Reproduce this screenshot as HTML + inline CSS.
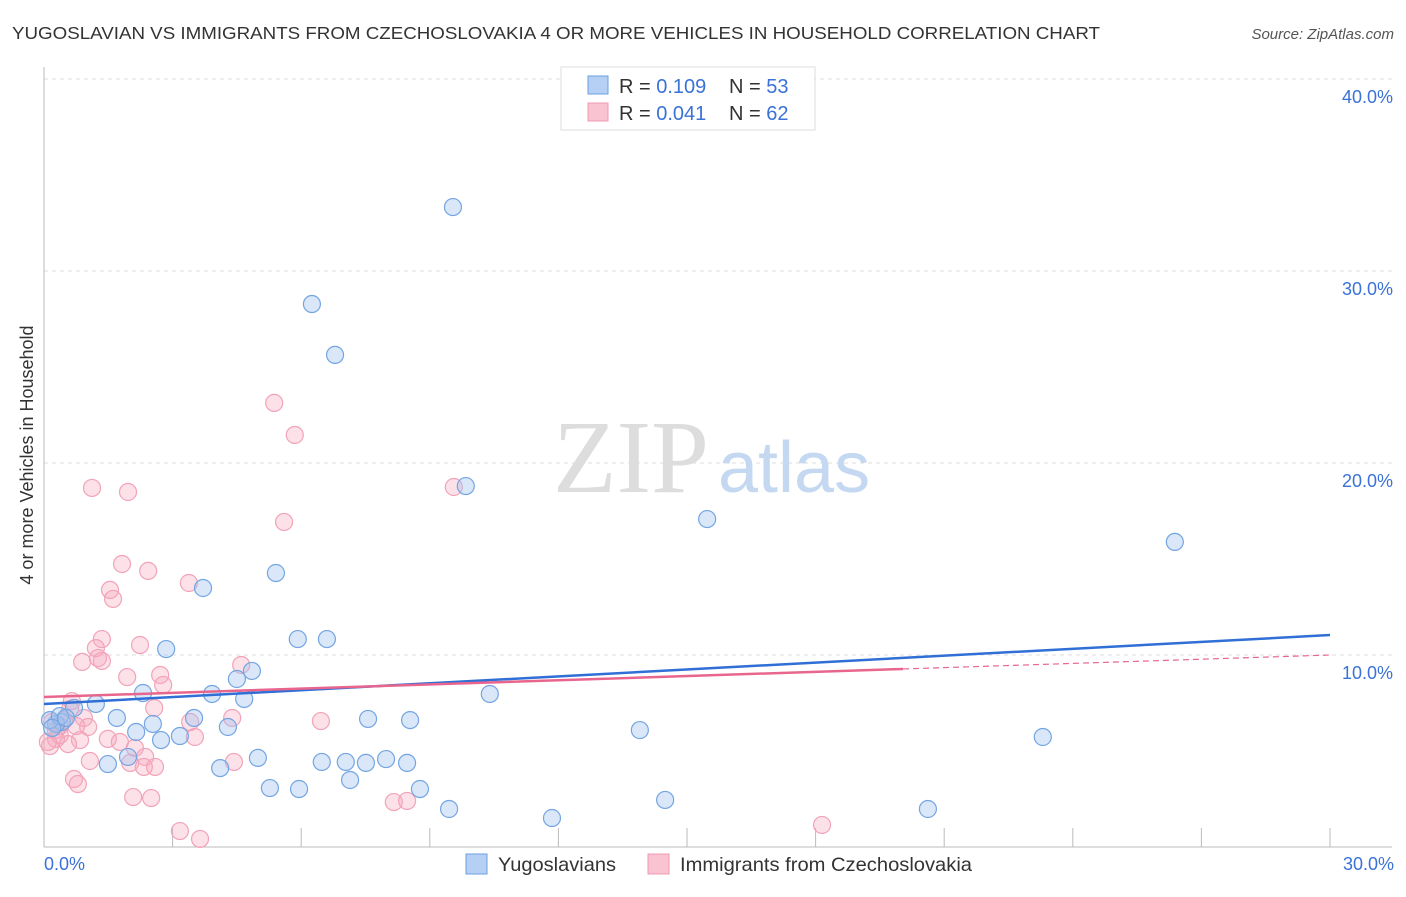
<!DOCTYPE html>
<html><head><meta charset="utf-8"><style>
body{margin:0;background:#fff;font-family:"Liberation Sans",sans-serif}
</style></head><body>
<svg width="1406" height="892" xmlns="http://www.w3.org/2000/svg">
<text x="12" y="39" font-size="17.5" fill="#333" textLength="1088" lengthAdjust="spacingAndGlyphs">YUGOSLAVIAN VS IMMIGRANTS FROM CZECHOSLOVAKIA 4 OR MORE VEHICLES IN HOUSEHOLD CORRELATION CHART</text>
<text x="1394" y="39" font-size="15" fill="#555" font-style="italic" text-anchor="end">Source: ZipAtlas.com</text>
<g id="grid"></g>
<text x="553" y="492" font-size="104" fill="#ddd" font-family="Liberation Serif,serif">ZIP</text>
<text x="718" y="492" font-size="72" fill="#c5d8f2">atlas</text>
<text x="33" y="455" font-size="18" fill="#333" text-anchor="middle" transform="rotate(-90 33 455)">4 or more Vehicles in Household</text>
<g id="pts"></g>
<g id="lines"></g>
<g>
<rect x="561" y="67" width="254" height="63" fill="#fff" stroke="#ddd"/>
<rect x="588" y="76" width="20" height="18" fill="#b6d0f5" stroke="#6a9fe0"/>
<rect x="588" y="103" width="20" height="18" fill="#f9c3d2" stroke="#f09ab0"/>
<text x="619" y="93" font-size="20" fill="#333">R = <tspan fill="#3a72d8">0.109</tspan></text>
<text x="729" y="93" font-size="20" fill="#333">N = <tspan fill="#3a72d8">53</tspan></text>
<text x="619" y="120" font-size="20" fill="#333">R = <tspan fill="#3a72d8">0.041</tspan></text>
<text x="729" y="120" font-size="20" fill="#333">N = <tspan fill="#3a72d8">62</tspan></text>
</g>
<g>
<rect x="466" y="854" width="21" height="20" fill="#b6d0f5" stroke="#6a9fe0"/>
<text x="498" y="871" font-size="19.5" fill="#333" textLength="118" lengthAdjust="spacingAndGlyphs">Yugoslavians</text>
<rect x="648" y="854" width="21" height="20" fill="#f9c3d2" stroke="#f09ab0"/>
<text x="680" y="871" font-size="19.5" fill="#333" textLength="292" lengthAdjust="spacingAndGlyphs">Immigrants from Czechoslovakia</text>
</g>
<text x="44" y="870" font-size="18" fill="#3a72d8">0.0%</text>
<text x="1394" y="870" font-size="18" fill="#3a72d8" text-anchor="end">30.0%</text>
</svg>
<script>
const yTicks=[10,20,30,40];
const yTickLabels=["10.0%","20.0%","30.0%","40.0%"];
const blueX=[9.54,6.25,6.79,9.84,15.47,26.38,3.71,5.41,5.92,6.60,2.85,4.85,4.50,3.92,2.31,4.67,10.40,1.21,0.70,1.70,3.50,2.54,3.17,2.15,2.73,4.29,0.42,0.28,0.14,7.56,8.54,13.90,23.30,4.99,7.04,6.48,7.51,7.98,8.47,1.49,4.11,7.14,5.27,5.95,8.77,9.45,11.85,14.49,20.62,1.96,0.37,0.51,0.19];
const blueY=[33.33,28.28,25.63,18.80,17.08,15.89,13.49,14.27,10.83,10.83,10.31,9.17,8.75,7.97,8.02,7.71,7.97,7.45,7.24,6.72,6.72,6.41,5.78,5.99,5.57,6.25,6.51,6.41,6.61,6.67,6.61,6.09,5.73,4.64,4.43,4.43,4.38,4.58,4.38,4.32,4.11,3.49,3.07,3.02,3.02,1.98,1.51,2.45,1.98,4.69,6.82,6.72,6.20];
const pinkX=[5.37,5.85,1.12,1.96,9.56,5.60,1.82,2.43,3.38,1.54,1.61,1.35,2.24,1.21,0.89,1.26,1.35,1.94,2.71,2.78,4.60,2.57,0.65,0.61,0.93,4.39,6.46,3.41,1.03,3.52,1.49,1.77,0.84,0.28,0.14,0.09,0.37,2.12,2.36,1.07,2.01,2.33,2.59,4.43,0.70,0.79,2.08,2.50,8.16,8.47,3.17,3.64,18.15,0.47,0.28,0.19,0.37,0.56,0.75];
const pinkY=[23.13,21.46,18.70,18.49,18.75,16.93,14.74,14.38,13.75,13.39,12.92,10.83,10.52,10.36,9.64,9.84,9.69,8.85,8.96,8.44,9.48,7.24,7.60,7.19,6.72,6.72,6.56,6.51,6.25,5.73,5.63,5.47,5.57,5.63,5.26,5.47,5.83,5.16,4.69,4.48,4.38,4.17,4.17,4.43,3.54,3.28,2.60,2.55,2.34,2.40,0.83,0.42,1.15,6.61,6.09,6.51,6.30,5.36,6.30];
const blueTrend=[7.45,11.04];
const pinkTrend=[7.81,10.0];
const pinkSolidEnd=20.04;
const NS="http://www.w3.org/2000/svg";
const xs=v=>44+v*1286/30, ys=v=>847-v*19.2;
function mk(t,a,p){const e=document.createElementNS(NS,t);for(const k in a)e.setAttribute(k,a[k]);p.appendChild(e);return e;}
const g=document.getElementById('grid');
yTicks.forEach((t,i)=>{
 const l=mk('line',{x1:44,x2:1392,y1:ys(t),y2:ys(t),stroke:'#ddd','stroke-dasharray':'4,4'},g);
 
 
 const tx=mk('text',{x:1393,y:ys(t)+24,'font-size':18,fill:'#3a72d8','text-anchor':'end'},g);
 tx.textContent=yTickLabels[i];
 
 
});
const ax=mk('line',{x1:44,x2:44,y1:67,y2:847,stroke:'#bbb'},g);


const bx=mk('line',{x1:44,x2:1392,y1:847,y2:847,stroke:'#bbb'},g);


for(let v=3;v<=30;v+=3){
 const t=mk('line',{x1:xs(v),x2:xs(v),y1:828,y2:847,stroke:'#bbb'},g);
 
 
}
const P=document.getElementById('pts');
pinkX.forEach((x,i)=>{
 const c=mk('circle',{cx:xs(x),cy:ys(pinkY[i]),r:8.5,fill:'rgba(246,170,192,0.35)',stroke:'#f2a3b8','stroke-width':1.2},P);
 
 
});
blueX.forEach((x,i)=>{
 const c=mk('circle',{cx:xs(x),cy:ys(blueY[i]),r:8.5,fill:'rgba(160,196,240,0.4)',stroke:'#74a5e2','stroke-width':1.2},P);
 
 
});
const L=document.getElementById('lines');
const b=mk('line',{x1:xs(0),y1:ys(blueTrend[0]),x2:xs(30),y2:ys(blueTrend[1]),stroke:'#2f6fd6','stroke-width':2.5},L);


const pe=pinkTrend[0]+(pinkTrend[1]-pinkTrend[0])*pinkSolidEnd/30;
const p1=mk('line',{x1:xs(0),y1:ys(pinkTrend[0]),x2:xs(pinkSolidEnd),y2:ys(pe),stroke:'#e8668e','stroke-width':2.5},L);


const p2=mk('line',{x1:xs(pinkSolidEnd),y1:ys(pe),x2:xs(30),y2:ys(pinkTrend[1]),stroke:'#e8668e','stroke-width':1.2,'stroke-dasharray':'6,4'},L);


</script>
</body></html>
